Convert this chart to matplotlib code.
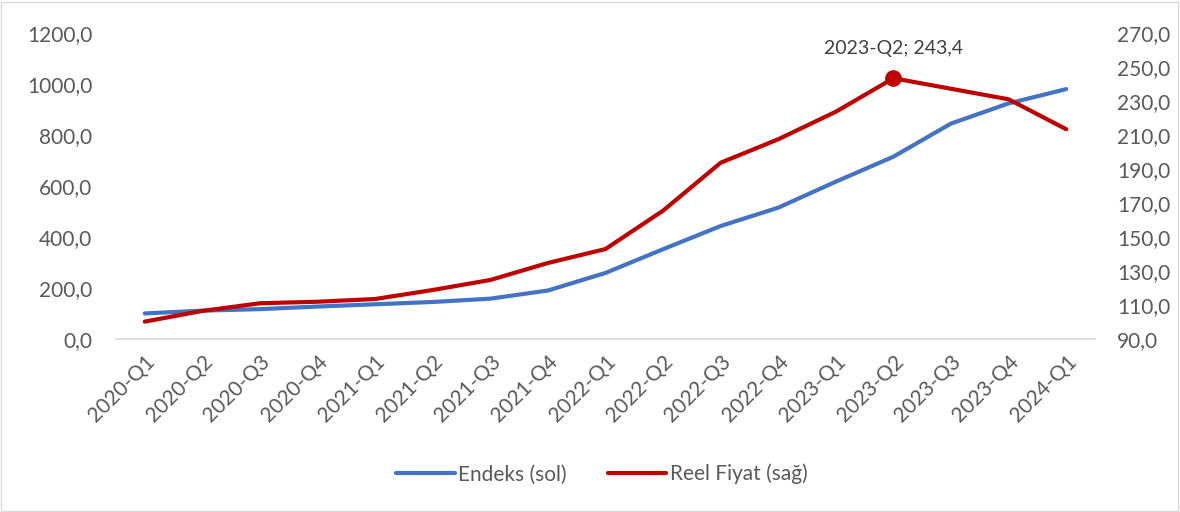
import matplotlib.pyplot as plt
from matplotlib.ticker import FuncFormatter
from matplotlib.patches import Rectangle

plt.rcParams['font.family'] = ['Lato', 'DejaVu Sans']

quarters = ['2020-Q1', '2020-Q2', '2020-Q3', '2020-Q4',
            '2021-Q1', '2021-Q2', '2021-Q3', '2021-Q4',
            '2022-Q1', '2022-Q2', '2022-Q3', '2022-Q4',
            '2023-Q1', '2023-Q2', '2023-Q3', '2023-Q4', '2024-Q1']
endeks = [100, 111, 117, 127, 136, 145, 158, 190, 259, 352, 443, 515,
          617, 715, 845, 924, 980]
reel_fiyat = [100.2, 106.5, 111.0, 111.9, 113.5, 118.8, 124.7, 134.7, 142.9,
              165.5, 193.7, 207.5, 223.7, 243.4, 237.2, 231.0, 213.4]
left_ticks = [0, 200, 400, 600, 800, 1000, 1200]
right_ticks = [90, 110, 130, 150, 170, 190, 210, 230, 250, 270]
peak_label = '2023-Q2; 243,4'

BLUE = '#4472C4'
RED = '#C00000'
TXT = '#595959'
GRID = '#D9D9D9'
FS = 15

def comma(v, pos):
    return f'{v:.1f}'.replace('.', ',')

fig = plt.figure(figsize=(11.8, 5.12), dpi=100)
ax = fig.add_axes([0.0983, 0.338, 0.8297, 0.5975])
ax2 = ax.twinx()

x = range(len(quarters))
l1, = ax.plot(x, endeks, color=BLUE, lw=3.0, solid_capstyle='round',
              label='Endeks (sol)', zorder=3)
l2, = ax2.plot(x, reel_fiyat, color=RED, lw=3.0, solid_capstyle='round',
               label='Reel Fiyat (sağ)', zorder=3)
i = reel_fiyat.index(max(reel_fiyat))
ax2.plot(i, reel_fiyat[i], 'o', color=RED, ms=11, zorder=4)
ax2.annotate(peak_label, (i, reel_fiyat[i]), xytext=(0, 15),
             textcoords='offset points', ha='center', va='bottom',
             fontsize=14, color='#404040')

ax.set_xlim(-0.5, len(quarters) - 0.5)
ax.set_ylim(0, 1200)
ax2.set_ylim(90, 270)
ax.set_yticks(left_ticks)
ax2.set_yticks(right_ticks)
ax.yaxis.set_major_formatter(FuncFormatter(comma))
ax2.yaxis.set_major_formatter(FuncFormatter(comma))

ax.set_xticks(list(x))
ax.set_xticklabels(quarters, rotation=45, ha='right', rotation_mode='anchor')

for a in (ax, ax2):
    for s in a.spines.values():
        s.set_visible(False)
    a.tick_params(length=0, labelsize=FS, colors=TXT)
ax.spines['bottom'].set_visible(True)
ax.spines['bottom'].set_color(GRID)
ax.spines['bottom'].set_linewidth(1.2)
ax.tick_params(axis='y', pad=17)
ax.tick_params(axis='x', pad=9)
ax2.tick_params(axis='y', pad=16)

fig.legend(handles=[l1, l2], loc='center', bbox_to_anchor=(0.51, 0.074),
           ncol=2, frameon=False, fontsize=FS, handlelength=2.8,
           columnspacing=2.0, handletextpad=0.15, labelcolor=TXT)

fig.patches.append(Rectangle((0.001, 0.002), 0.997, 0.995, transform=fig.transFigure,
                             fill=False, edgecolor=GRID, lw=1))

fig.savefig('out.png', dpi=100, facecolor='white')
